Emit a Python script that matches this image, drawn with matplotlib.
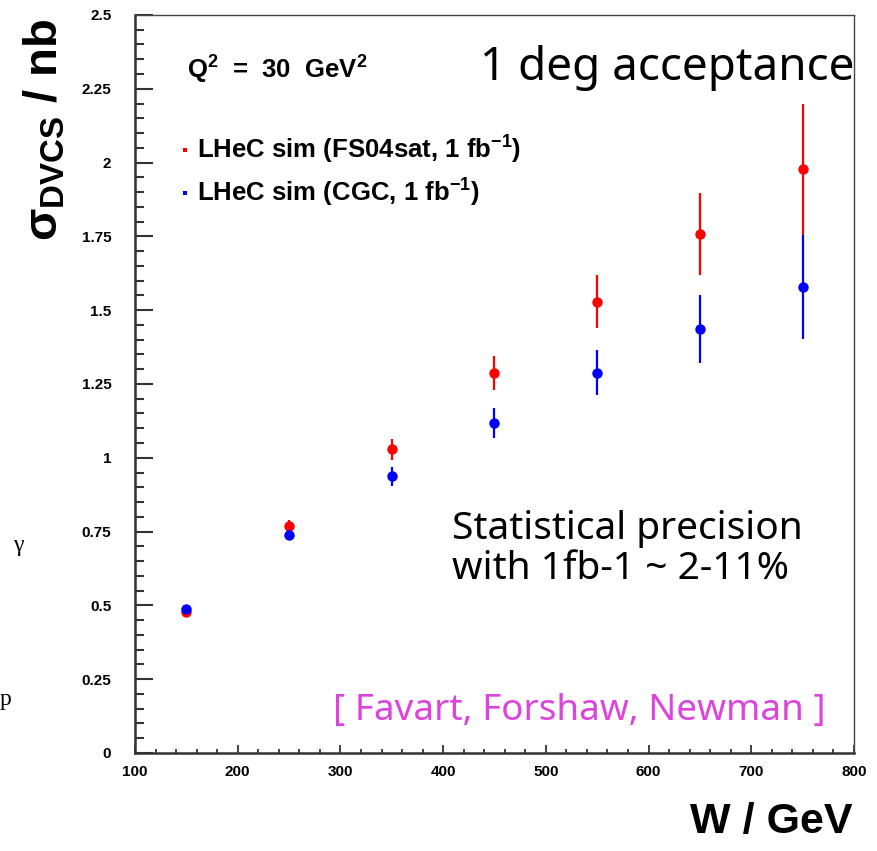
import matplotlib.pyplot as plt
from matplotlib.ticker import MultipleLocator

plt.rcParams['mathtext.fontset'] = 'custom'
plt.rcParams['mathtext.rm'] = 'Liberation Sans:bold'
plt.rcParams['mathtext.it'] = 'Liberation Sans:bold'
plt.rcParams['mathtext.bf'] = 'Liberation Sans:bold'

# DVCS cross section vs W at Q2 = 30 GeV2
W = [150, 250, 350, 450, 550, 650, 750]
sig_fs04 = [0.478, 0.769, 1.029, 1.288, 1.529, 1.758, 1.978]
err_fs04 = [0.010, 0.020, 0.035, 0.057, 0.091, 0.140, 0.222]
sig_cgc = [0.489, 0.738, 0.938, 1.117, 1.288, 1.437, 1.578]
err_cgc = [0.010, 0.018, 0.032, 0.050, 0.076, 0.115, 0.176]

fig = plt.figure(figsize=(8.77, 8.51), dpi=100)
ax = fig.add_axes([0.1539, 0.1152, 0.8199, 0.8672])

ax.errorbar(W, sig_fs04, yerr=err_fs04, fmt='o', color='#ff0000', ms=7.5,
            elinewidth=1.6, capsize=0, mew=0, zorder=3)
ax.errorbar(W, sig_cgc, yerr=err_cgc, fmt='o', color='#0000ff', ms=7.5,
            elinewidth=1.6, capsize=0, mew=0, zorder=4)

ax.set_xlim(100, 800)
ax.set_ylim(0, 2.5)
ax.xaxis.set_major_locator(MultipleLocator(100))
ax.xaxis.set_minor_locator(MultipleLocator(20))
ax.yaxis.set_minor_locator(MultipleLocator(0.05))
ax.set_yticks([0, 0.25, 0.5, 0.75, 1, 1.25, 1.5, 1.75, 2, 2.25, 2.5])
ax.set_yticklabels(['0', '0.25', '0.5', '0.75', '1', '1.25', '1.5', '1.75',
                    '2', '2.25', '2.5'])

ax.tick_params(axis='y', which='major', direction='in', length=13, width=1.5,
               color='#333333', pad=17)
ax.tick_params(axis='y', which='minor', direction='in', length=6.5, width=1.5,
               color='#333333')
ax.tick_params(axis='x', which='major', direction='in', length=6, width=1.3,
               color='#333333', pad=9)
ax.tick_params(axis='x', which='minor', direction='in', length=3, width=1.3,
               color='#333333')
for lab in ax.get_xticklabels() + ax.get_yticklabels():
    lab.set_fontfamily('Liberation Sans')
    lab.set_fontweight('bold')
    lab.set_fontsize(11)

for s in ['left', 'bottom']:
    ax.spines[s].set_linewidth(1.8)
    ax.spines[s].set_color('#333333')
for s in ['top', 'right']:
    ax.spines[s].set_linewidth(1.0)
    ax.spines[s].set_color('#444444')

# legend drawn by hand, ROOT style
ax.plot([148.7], [2.043], 's', color='#ff0000', ms=3.5, mew=0)
ax.plot([148.7], [1.897], 's', color='#0000ff', ms=3.5, mew=0)
ax.text(160, 2.043, r'LHeC sim (FS04sat, 1 fb$^{-1}$)', fontsize=18.5,
        fontweight='bold', family='Liberation Sans', va='center')
ax.text(160, 1.897, r'LHeC sim (CGC, 1 fb$^{-1}$)', fontsize=18.5,
        fontweight='bold', family='Liberation Sans', va='center')
ax.text(150.6, 2.314, r'Q$^{2}$  =  30  GeV$^{2}$', fontsize=18.5,
        fontweight='bold', family='Liberation Sans', va='center')

ax.text(800.5, 2.32, '1 deg acceptance', fontsize=33, family='Noto Sans',
        ha='right', va='center')
ax.text(408.7, 0.691, 'Statistical precision\nwith 1fb-1 ~ 2-11%', fontsize=28,
        family='Noto Sans', va='center', linespacing=1.05)
ax.text(772.8, 0.142, '[ Favart, Forshaw, Newman ]', fontsize=26.5,
        family='Noto Sans', color='#dd44dd', ha='right', va='center')

fig.text(45 / 877, 1 - 130 / 851, r'$\sigma_{DVCS}$ / nb', rotation=90,
         fontsize=34, fontweight='bold', family='Liberation Sans',
         ha='center', va='center')
fig.text(853 / 877, 1 - 833 / 851, 'W / GeV', fontsize=31,
         fontweight='bold', family='Liberation Sans', ha='right',
         va='baseline')

# fragments of neighbouring slide text
fig.text(13 / 877, 1 - 546 / 851, 'γ', fontsize=17, family='Liberation Serif',
         va='center')
fig.text(0 / 877, 1 - 700 / 851, 'p', fontsize=17, family='Liberation Serif',
         va='center')

fig.savefig('out.png', dpi=100)
